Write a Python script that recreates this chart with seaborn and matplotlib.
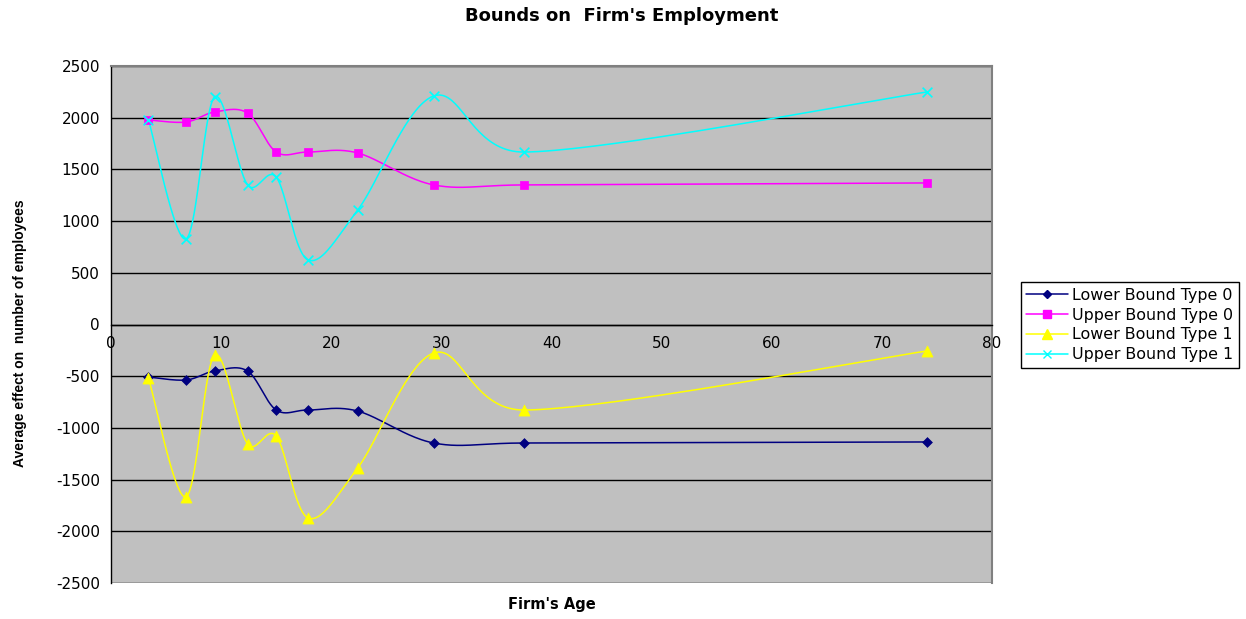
import numpy as np
import pandas as pd
import matplotlib
matplotlib.use("Agg")
import matplotlib.pyplot as plt
from matplotlib.lines import Line2D
import seaborn as sns

# ---- data ----
ages = [3.4, 6.8, 9.4, 12.4, 15, 17.9, 22.4, 29.3, 37.5, 74.1]
lower_type0 = [-508, -537, -450, -450, -827, -827, -837, -1146, -1146, -1136]
upper_type0 = [1978, 1958, 2055, 2045, 1668, 1668, 1659, 1350, 1350, 1369]
lower_type1 = [-517, -1668, -295, -1156, -1078, -1871, -1388, -276, -827, -256]
upper_type1 = [1978, 827, 2200, 1350, 1426, 624, 1107, 2210, 1668, 2249]
series_names = ["Lower Bound Type 0", "Upper Bound Type 0",
                "Lower Bound Type 1", "Upper Bound Type 1"]
x_ticks = [0, 10, 20, 30, 40, 50, 60, 70, 80]
y_ticks = [-2500, -2000, -1500, -1000, -500, 0, 500, 1000, 1500, 2000, 2500]

series = [lower_type0, upper_type0, lower_type1, upper_type1]
colors = ["#000080", "#FF00FF", "#FFFF00", "#00FFFF"]
markers = ["D", "s", "^", "x"]
msizes = [5, 6, 8, 7]

# pixel scale of the plot area (used only for the Excel-like smoothing)
SX = 881 / 80.0
SY = 517 / 5000.0


def excel_smooth(xs, ys, n=40):
    """Excel-like smoothed line: Bezier segments with capped control points."""
    P = np.column_stack([np.asarray(xs, float) * SX, np.asarray(ys, float) * SY])
    P = np.vstack([P[0], P, P[-1]])
    out = []
    for i in range(1, len(P) - 2):
        p0, p1, p2, p3 = P[i - 1], P[i], P[i + 1], P[i + 2]
        d12 = np.linalg.norm(p2 - p1)
        d02 = np.linalg.norm(p2 - p0)
        d13 = np.linalg.norm(p3 - p1)
        f1 = 1 / 6.0 if d02 / 6.0 < d12 / 2.0 else d12 / (2 * d02)
        f2 = 1 / 6.0 if d13 / 6.0 < d12 / 2.0 else d12 / (2 * d13)
        c1 = p1 + (p2 - p0) * f1
        c2 = p2 - (p3 - p1) * f2
        t = np.linspace(0, 1, n, endpoint=(i == len(P) - 3))[:, None]
        b = ((1 - t) ** 3) * p1 + 3 * ((1 - t) ** 2) * t * c1 + 3 * (1 - t) * t ** 2 * c2 + t ** 3 * p2
        out.append(b)
    out = np.vstack(out)
    return out[:, 0] / SX, out[:, 1] / SY


sns.set_theme(style="white")
plt.rcParams["font.family"] = ["DejaVu Sans"]
plt.rcParams["text.color"] = "black"
plt.rcParams["xtick.color"] = "black"
plt.rcParams["ytick.color"] = "black"
plt.rcParams["axes.labelcolor"] = "black"

fig = plt.figure(figsize=(12.46, 6.19), dpi=100)
fig.patch.set_facecolor("white")
ax = fig.add_axes([111 / 1246, 1 - 583 / 619, (992 - 111) / 1246, (583 - 66) / 619])
ax.set_facecolor("#C0C0C0")

handles = []
for vals, name, c, m, ms in zip(series, series_names, colors, markers, msizes):
    sx, sy = excel_smooth(ages, vals)
    df = pd.DataFrame({"x": sx, "y": sy})
    sns.lineplot(data=df, x="x", y="y", sort=False, color=c, linewidth=1.1, ax=ax,
                 estimator=None, zorder=3)
    pts = pd.DataFrame({"x": ages, "y": vals})
    if m == "x":
        sns.scatterplot(data=pts, x="x", y="y", marker="x", color=c, s=ms ** 2,
                        linewidth=1.2, ax=ax, zorder=4)
    else:
        sns.scatterplot(data=pts, x="x", y="y", marker=m, color=c, s=ms ** 2,
                        edgecolor=c, linewidth=0.5, ax=ax, zorder=4)
    handles.append(Line2D([0], [0], color=c, marker=m, markersize=ms * 0.85,
                          markeredgecolor=c, linewidth=1.1, label=name))

ax.set_xlim(0, 80)
ax.set_ylim(-2500, 2500)
ax.set_xticks(x_ticks)
ax.set_yticks(y_ticks)
ax.set_xticklabels([str(v) for v in x_ticks], fontsize=11)
ax.set_yticklabels([str(v) for v in y_ticks], fontsize=11)
ax.yaxis.grid(True, color="black", linewidth=1.0)
ax.xaxis.grid(False)
ax.set_axisbelow(True)

ax.spines["bottom"].set_position(("data", 0))
ax.spines["bottom"].set_color("black")
ax.spines["bottom"].set_linewidth(1.0)
ax.spines["left"].set_color("black")
ax.spines["left"].set_linewidth(1.0)
ax.spines["top"].set_color("#808080")
ax.spines["right"].set_color("#808080")
ax.spines["top"].set_linewidth(1.5)
ax.spines["right"].set_linewidth(1.5)
ax.tick_params(axis="x", direction="out", length=5, width=1, color="black", pad=3)
ax.tick_params(axis="y", direction="out", length=5, width=1, color="black", pad=3)
ax.set_xlabel("")
ax.set_ylabel("")

fig.text(552 / 1246, 1 - 605 / 619, "Firm's Age", ha="center", va="center",
         fontsize=10.5, fontweight="bold")
fig.text(20 / 1246, 1 - 333 / 619, "Average effect on  number of employees", ha="center",
         va="center", rotation=90, fontsize=10, fontweight="bold",
         family=["Liberation Sans", "DejaVu Sans"])
fig.text(622 / 1246, 1 - 16 / 619, "Bounds on  Firm's Employment", ha="center", va="center",
         fontsize=13, fontweight="bold")

leg = fig.legend(handles=handles, loc="center left",
                 bbox_to_anchor=(1013 / 1246, 1 - 325 / 619), fontsize=11.4,
                 frameon=True, fancybox=False, edgecolor="black", framealpha=1,
                 handlelength=2.6, borderpad=0.35, labelspacing=0.3, handletextpad=0.3)
leg.get_frame().set_linewidth(1.0)

fig.savefig("out.png", dpi=100)
